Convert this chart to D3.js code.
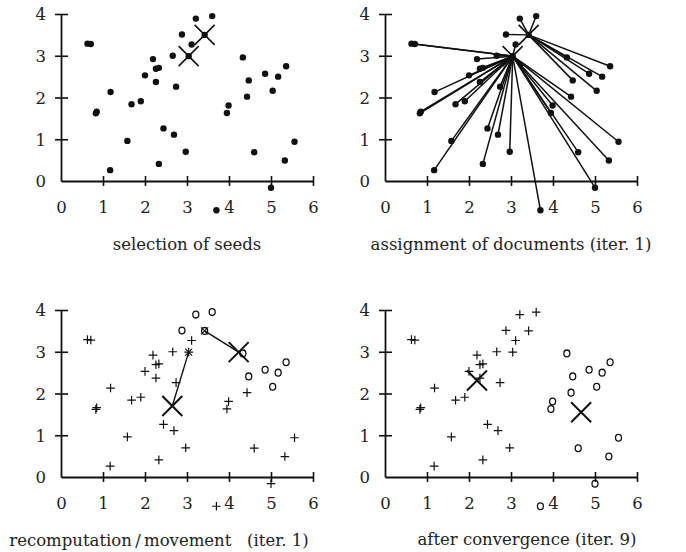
<!DOCTYPE html>
<html>
<head>
<meta charset="utf-8">
<script src="https://cdn.jsdelivr.net/npm/d3@7"></script>
<style>
  body { margin: 0; background: #fff; }
  text { font-family: "DejaVu Serif", serif; fill: #222; }
</style>
</head>
<body>
<svg width="686" height="552"></svg>
<script>
// documents (x, y)
var docX = [0.63, 0.71, 0.85, 0.83, 1.18, 1.17, 1.58, 1.68, 1.90, 2.00,
            2.19, 2.26, 2.33, 2.26, 2.44, 2.33, 2.66, 2.69, 2.74, 2.88,
            2.97, 3.04, 3.11, 3.21, 3.42, 3.60, 3.70, 3.95, 3.99, 4.33,
            4.43, 4.47, 4.60, 4.86, 5.00, 5.04, 5.17, 5.33, 5.36, 5.56];
var docY = [3.29, 3.28, 1.66, 1.62, 2.13, 0.26, 0.96, 1.84, 1.91, 2.53,
            2.92, 2.69, 2.71, 2.37, 1.26, 0.41, 3.00, 1.11, 2.26, 3.51,
            0.70, 2.99, 3.27, 3.89, 3.50, 3.95, -0.70, 1.63, 1.81, 2.96,
            2.02, 2.41, 0.69, 2.57, -0.16, 2.16, 2.50, 0.49, 2.75, 0.94];
// cluster after first assignment (0 = "+", 1 = "o")
var clusterIter1 = [0,0,0,0,0,0,0,0,0,0, 0,0,0,0,0,0,0,0,0,1,
                    0,0,0,1,1,1,0,0,0,1, 0,1,0,1,0,1,1,0,1,0];
// cluster after convergence
var clusterFinal = [0,0,0,0,0,0,0,0,0,0, 0,0,0,0,0,0,0,0,0,0,
                    0,0,0,0,0,0,1,1,1,1, 1,1,1,1,1,1,1,1,1,1];

var seedX = [3.04, 3.42], seedY = [2.99, 3.50];
var iter1X = [2.65, 4.23], iter1Y = [1.70, 2.99];
var finalX = [2.19, 4.67], finalY = [2.31, 1.55];

var xTicks = [0, 1, 2, 3, 4, 5, 6];
var yTicks = [0, 1, 2, 3, 4];

var captions = ["selection of seeds",
                "assignment of documents (iter. 1)",
                "recomputation\u2009/\u2009movement   (iter. 1)",
                "after convergence (iter. 9)"];

var svg = d3.select("svg");
var ink = "#111";

// panel origins (pixel position of data 0,0)
var panels = [
  {ox: 61,  oy: 181, cap: [187, 250]},
  {ox: 385, oy: 181, cap: [511, 250]},
  {ox: 61,  oy: 477, cap: [159, 546]},
  {ox: 385, oy: 477, cap: [527, 545]}
];

panels.forEach(function(p, i) {
  var x = d3.scaleLinear().domain([0, 6]).range([p.ox, p.ox + 252]);
  var y = d3.scaleLinear().domain([0, 4]).range([p.oy, p.oy - 167]);
  var g = svg.append("g");

  // axes
  var ax = g.append("g")
      .attr("transform", "translate(0," + p.oy + ")")
      .call(d3.axisBottom(x).tickValues(xTicks).tickSizeOuter(0).tickFormat(d3.format("d")));
  var ay = g.append("g")
      .attr("transform", "translate(" + p.ox + ",0)")
      .call(d3.axisLeft(y).tickValues(yTicks).tickSizeOuter(0).tickFormat(d3.format("d")));
  [ax, ay].forEach(function(a) {
    a.attr("font-family", null).attr("font-size", null);
    a.select(".domain").attr("stroke", ink).attr("stroke-width", 1.8);
    a.selectAll(".tick line").attr("stroke", ink).attr("stroke-width", 1.6)
      .attr("display", function(d) { return d === 0 ? "none" : null; });
    a.selectAll(".tick text").style("font-size", "16.5px").attr("fill", "#222");
  });
  ax.selectAll(".tick line").attr("y1", -5).attr("y2", 5);
  ax.selectAll(".tick text").attr("y", 32).attr("dy", null);
  ay.selectAll(".tick line").attr("x1", -6).attr("x2", 7);
  ay.selectAll(".tick text").attr("x", -15).attr("dy", "0.36em");

  var idx = d3.range(docX.length);

  function bigX(sel, cx, cy, s, w) {
    sel.append("path")
      .attr("d", "M" + (cx - s) + "," + (cy - s) + "L" + (cx + s) + "," + (cy + s) +
                 "M" + (cx - s) + "," + (cy + s) + "L" + (cx + s) + "," + (cy - s))
      .attr("stroke", ink).attr("stroke-width", w).attr("fill", "none");
  }
  function marker(sel, cx, cy, c) {
    if (c === 0) {
      sel.append("path")
        .attr("d", "M" + (cx - 4.3) + "," + cy + "H" + (cx + 4.3) + "M" + cx + "," + (cy - 4.3) + "V" + (cy + 4.3))
        .attr("stroke", ink).attr("stroke-width", 1.2).attr("fill", "none");
    } else {
      sel.append("ellipse").attr("cx", cx).attr("cy", cy).attr("rx", 3).attr("ry", 3.4)
        .attr("fill", "none").attr("stroke", ink).attr("stroke-width", 1.3);
    }
  }

  if (i === 1) {
    g.append("g").selectAll("line").data(idx).join("line")
      .attr("x1", function(d) { return x(docX[d]); })
      .attr("y1", function(d) { return y(docY[d]); })
      .attr("x2", function(d) { return x(seedX[clusterIter1[d]]); })
      .attr("y2", function(d) { return y(seedY[clusterIter1[d]]); })
      .attr("stroke", ink).attr("stroke-width", 1.5);
  }
  if (i <= 1) {
    g.append("g").selectAll("circle").data(idx).join("circle")
      .attr("cx", function(d) { return x(docX[d]); })
      .attr("cy", function(d) { return y(docY[d]); })
      .attr("r", 3.2).attr("fill", ink);
    seedX.forEach(function(sx, k) { bigX(g, x(sx), y(seedY[k]), 10, 1.6); });
  } else {
    var cl = i === 2 ? clusterIter1 : clusterFinal;
    idx.forEach(function(d) { marker(g, x(docX[d]), y(docY[d]), cl[d]); });
    if (i === 2) {
      seedX.forEach(function(sx, k) {
        bigX(g, x(sx), y(seedY[k]), 3.5, 1.1);
        g.append("line")
          .attr("x1", x(sx)).attr("y1", y(seedY[k]))
          .attr("x2", x(iter1X[k])).attr("y2", y(iter1Y[k]))
          .attr("stroke", ink).attr("stroke-width", 1.4);
        bigX(g, x(iter1X[k]), y(iter1Y[k]), 10, 2);
      });
    } else {
      finalX.forEach(function(fx, k) { bigX(g, x(fx), y(finalY[k]), 10, 2); });
    }
  }

  g.append("text")
    .attr("x", p.cap[0]).attr("y", p.cap[1])
    .attr("text-anchor", "middle")
    .style("font-size", "16.5px")
    .style("white-space", "pre")
    .text(captions[i]);
});
</script>
</body>
</html>
